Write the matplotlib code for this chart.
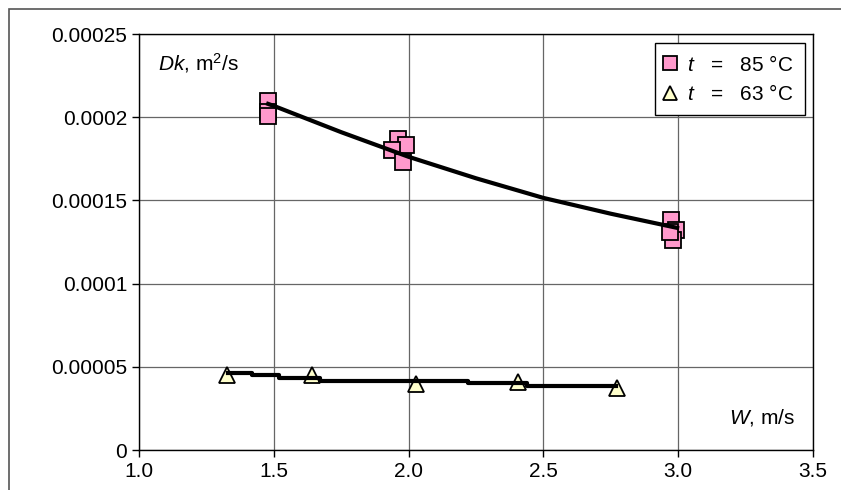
import matplotlib.pyplot as plt
from matplotlib.patches import Rectangle

plt.rcParams["font.family"] = ["Liberation Sans", "DejaVu Sans"]
plt.rcParams["mathtext.fontset"] = "custom"
plt.rcParams["mathtext.it"] = "Liberation Sans:italic"
plt.rcParams["mathtext.rm"] = "Liberation Sans"

# measured points, t = 85 C
w_85 = [1.48, 1.48, 1.48, 1.96, 1.99, 1.94, 1.98, 2.975, 2.99, 2.98, 2.97]
dk_85 = [0.000210, 0.000203, 0.000201, 0.000187, 0.000183, 0.000180,
         0.000173, 0.000138, 0.000132, 0.000126, 0.000131]

# measured points, t = 63 C
w_63 = [1.328, 1.643, 2.027, 2.404, 2.773]
dk_63 = [0.0000449, 0.0000449, 0.0000398, 0.0000410, 0.0000373]

# trend lines
fit_w_85 = [1.479, 1.5, 1.75, 2.0, 2.25, 2.5, 2.75, 2.996]
fit_dk_85 = [0.000208, 0.0002068, 0.0001910, 0.0001762, 0.0001633,
             0.0001515, 0.0001420, 0.0001335]

fit_w_63 = [1.33, 1.42, 1.52, 1.67, 2.22, 2.44, 2.77]
fit_dk_63 = [0.0000462, 0.0000450, 0.0000434, 0.0000417, 0.0000402,
             0.0000386, 0.0000386]

x_ticks = [1.0, 1.5, 2.0, 2.5, 3.0, 3.5]
y_ticks = [0, 0.00005, 0.0001, 0.00015, 0.0002, 0.00025]
y_labels = ["0", "0.00005", "0.0001", "0.00015", "0.0002", "0.00025"]

fig = plt.figure(figsize=(8.41, 4.90), dpi=100)
ax = fig.add_axes([0.1653, 0.0816, 0.8014, 0.849])

# outer chart frame
fig.patches.append(Rectangle((0.0107, -0.05), 1.1, 1.0316, transform=fig.transFigure,
                             fill=False, edgecolor="#555555", linewidth=1.2))

ax.plot(w_85, dk_85, linestyle="none", marker="s", markersize=11.5,
        markerfacecolor="#FF99CC", markeredgecolor="black", markeredgewidth=1.3,
        label="$t$   =   85 °C", zorder=3)
ax.plot(w_63, dk_63, linestyle="none", marker="^", markersize=12,
        markerfacecolor="#FFFFCC", markeredgecolor="black", markeredgewidth=1.3,
        label="$t$   =   63 °C", zorder=3)

ax.plot(fit_w_85, fit_dk_85, color="black", linewidth=3, zorder=4)
ax.plot(fit_w_63, fit_dk_63, color="black", linewidth=3, drawstyle="steps-post", zorder=4)

ax.set_xlim(1.0, 3.5)
ax.set_ylim(0, 0.00025)
ax.set_xticks(x_ticks)
ax.set_xticklabels([f"{v:.1f}" for v in x_ticks])
ax.set_yticks(y_ticks)
ax.set_yticklabels(y_labels)
ax.tick_params(labelsize=15, length=5, width=1, color="black", direction="out")
ax.grid(True, color="#666666", linewidth=0.9)
ax.set_axisbelow(True)
for s in ax.spines.values():
    s.set_color("black")
    s.set_linewidth(1)

ax.text(0.028, 0.93, r"$Dk$, m$^2$/s", transform=ax.transAxes, fontsize=15,
        ha="left", va="center")
ax.text(0.973, 0.078, r"$W$, m/s", transform=ax.transAxes, fontsize=15,
        ha="right", va="center")

leg = ax.legend(loc="upper right", bbox_to_anchor=(0.988, 0.978), borderaxespad=0,
                fontsize=15, fancybox=False, framealpha=1, edgecolor="black",
                handlelength=0.4, handletextpad=0.6, borderpad=0.55,
                labelspacing=0.45, markerscale=0.85)
leg.get_frame().set_linewidth(1)

fig.savefig("out.png", dpi=100)
